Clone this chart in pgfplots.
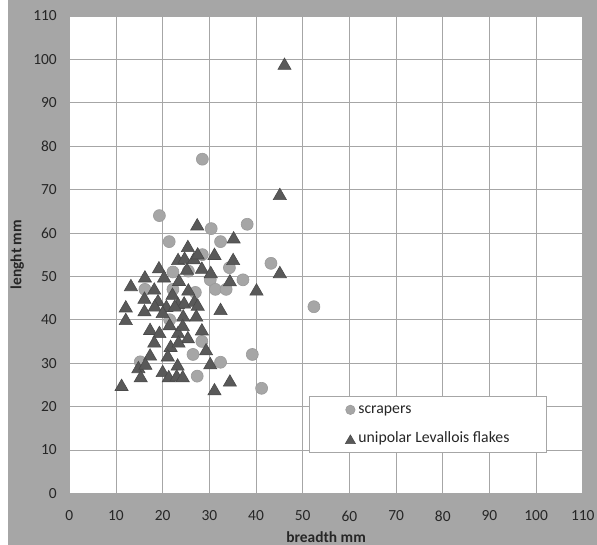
\documentclass[border=0pt]{standalone}
\usepackage{pgfplots}
\usepackage{pgfplotstable}
\pgfplotsset{compat=1.18}
\usepackage{fontspec}
\setmainfont{Carlito}
\definecolor{bg}{HTML}{A6A6A6}
\definecolor{scr}{HTML}{A6A6A6}
\definecolor{scrd}{HTML}{9A9A9A}
\definecolor{tri}{HTML}{595959}
\definecolor{trid}{HTML}{4A4A4A}
\definecolor{gridc}{HTML}{A6A6A6}
\definecolor{txt}{HTML}{262626}
\pgfplotsset{legend image code/.code={\path[draw=none,fill=none] (-6bp,-5bp) rectangle (6bp,5bp); \draw[#1] plot coordinates {(0bp,0bp)};}}

\pgfplotstableread{
x y
28.5 77
19.3 64
30.4 61
38.1 62
21.4 58
32.4 58
28.5 55
43.2 53
22.2 51
25.5 51.2
34.3 52
30.2 49.2
37.2 49.2
31.3 47
33.6 47
16.2 47
22.2 47
27.0 46.3
21.5 40
28.4 35
26.5 32
39.2 32
15.2 30.3
32.4 30.2
27.4 27
41.2 24.2
52.4 43
}\scrapers

\pgfplotstableread{
x y
46.1 99
45.1 69
45.1 51
40.1 47
27.4 62
35.2 59
25.4 57
23.3 54
24.7 54.3
26.7 54.2
27.5 55.3
31.1 55.2
35.1 54
19.2 52.1
25.2 51.8
28.4 52
30.3 51
16.2 50
20.3 50
23.5 49.2
34.4 49.1
13.2 48
18.2 47.2
25.5 47
22.1 46
16.1 45.1
19.0 44.5
23.3 43.8
24.6 44
26.8 44.4
27.5 43.5
12.1 43.1
16.1 42.2
18.3 43.3
20.8 43.2
22.6 43.3
32.4 42.5
12.1 40.2
20.0 41.8
24.4 41
27.2 41
17.3 37.9
19.3 37.2
21.5 39
23.3 37.2
24.3 38.8
28.4 37.8
25.4 36
18.2 35
21.7 34
23.4 35
29.3 33.2
17.3 32
21.1 31.8
14.8 29.1
16.3 29.9
23.2 29.7
30.2 30
15.3 27
20.0 28.2
21.3 27
23.0 27.2
24.3 27
11.2 25
31.1 24
34.4 26
}\flakes

\begin{document}
\begin{tikzpicture}
\fill[white] (-69.3bp,-51.7bp) rectangle (527.7bp,493.3bp);
\fill[bg] (-61.3bp,-51.7bp) rectangle (527.7bp,493.3bp);
\begin{axis}[
  at={(0,0)}, anchor=south west,
  scale only axis, width=513.5bp, height=477.3bp,
  xmin=0, xmax=110, ymin=0, ymax=110,
  xtick={0,10,...,110}, ytick={0,10,...,110},
  axis background/.style={fill=white},
  grid=major, major grid style={gridc, line width=0.8bp},
  axis line style={gridc, line width=0.8bp},
  major tick length=0pt,
  /pgf/number format/assume math mode=true,
  tick label style={font=\fontsize{15.5}{17}\selectfont, text=txt},
  xticklabel style={yshift=-14bp},
  yticklabel style={xshift=-9bp},
  xlabel={breadth mm}, ylabel={lenght mm},
  every axis x label/.style={at={(axis description cs:0.5,0)}, yshift=-44bp, anchor=center, inner sep=0pt, font=\fontsize{15.5}{17}\selectfont\bfseries, text=txt},
  every axis y label/.style={at={(axis description cs:0,0.5)}, xshift=-52bp, rotate=90, anchor=center, inner sep=0pt, font=\fontsize{15.5}{17}\selectfont\bfseries, text=txt},
  legend cell align=left,
  legend style={at={(rel axis cs:0.4668,0.204)}, anchor=north west,
    draw=black!35, fill=white, line width=0.8bp,
    inner xsep=35bp, inner ysep=5bp, row sep=12bp,
    font=\fontsize{15.8}{17}\selectfont, text=txt,
    nodes={text height=10bp, text depth=3bp, inner sep=2bp}},
]
\addplot[only marks, mark=*, mark size=6bp, mark options={fill=scr, draw=scrd, line width=0.6bp},
  legend image post style={mark size=4.7bp}]
  table[x=x, y=y] {\scrapers};
\addlegendentry{scrapers}
\addplot[only marks, mark=triangle*, mark size=7.6bp, mark options={fill=tri, draw=trid, line width=0.6bp, yshift=-1.9bp},
  legend image post style={mark size=5.8bp}]
  table[x=x, y=y] {\flakes};
\addlegendentry{unipolar Levallois flakes}
\end{axis}
\pgfresetboundingbox
\path (-69.3bp,-51.7bp) rectangle (527.7bp,493.3bp);
\end{tikzpicture}
\end{document}
